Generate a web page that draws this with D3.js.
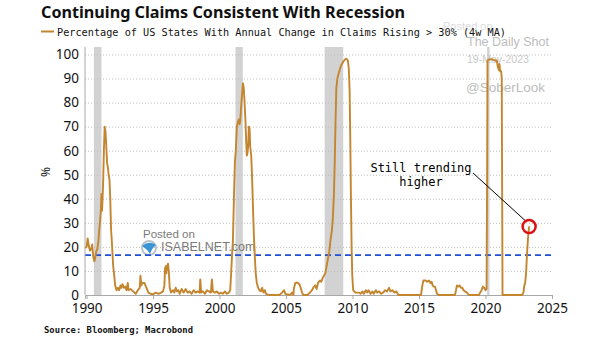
<!DOCTYPE html>
<html><head><meta charset="utf-8">
<script src="https://cdn.jsdelivr.net/npm/d3@7"></script>
<style>
html,body{margin:0;padding:0;background:#fff;}
svg{display:block;}
</style></head>
<body>
<svg id="chart" width="605" height="341"></svg>
<script>
// ---------- DATA ----------
const dates = [1989.9,1990.0,1990.08,1990.15,1990.25,1990.35,1990.42,1990.5,1990.58,1990.65,1990.72,1990.8,1990.88,1990.95,1991.02,1991.08,1991.12,1991.16,1991.2,1991.25,1991.3,1991.36,1991.42,1991.48,1991.54,1991.6,1991.66,1991.72,1991.78,1991.84,1991.88,1991.92,1992.0,1992.08,1992.15,1992.25,1992.35,1992.45,1992.55,1992.62,1992.7,1992.8,1992.9,1993.0,1993.1,1993.15,1993.3,1993.5,1993.7,1993.85,1994.0,1994.05,1994.12,1994.2,1994.35,1994.5,1994.65,1994.8,1995.0,1995.2,1995.4,1995.6,1995.75,1995.85,1995.9,1995.95,1996.0,1996.05,1996.12,1996.18,1996.25,1996.35,1996.5,1996.6,1996.7,1996.8,1996.9,1997.0,1997.15,1997.3,1997.45,1997.6,1997.75,1997.9,1998.05,1998.2,1998.35,1998.5,1998.55,1998.62,1998.75,1998.9,1999.05,1999.2,1999.35,1999.42,1999.5,1999.65,1999.8,1999.95,2000.1,2000.25,2000.4,2000.55,2000.7,2000.8,2000.88,2000.95,2001.0,2001.08,2001.15,2001.22,2001.3,2001.38,2001.45,2001.5,2001.55,2001.62,2001.7,2001.76,2001.82,2001.88,2001.95,2002.0,2002.05,2002.1,2002.15,2002.2,2002.26,2002.3,2002.38,2002.45,2002.52,2002.58,2002.65,2002.72,2002.8,2002.9,2003.0,2003.1,2003.2,2003.3,2003.4,2003.5,2003.7,2004.0,2004.5,2004.7,2004.85,2004.95,2005.3,2005.45,2005.55,2005.6,2005.7,2005.85,2006.0,2006.1,2006.2,2006.3,2006.6,2006.8,2006.95,2007.1,2007.2,2007.3,2007.4,2007.55,2007.65,2007.75,2007.85,2007.95,2008.05,2008.15,2008.25,2008.35,2008.45,2008.52,2008.6,2008.66,2008.72,2008.78,2008.86,2008.95,2009.05,2009.15,2009.3,2009.45,2009.55,2009.65,2009.72,2009.78,2009.83,2009.88,2009.93,2009.98,2010.05,2010.2,2010.4,2010.5,2010.6,2010.75,2010.85,2011.0,2011.1,2011.2,2011.35,2011.5,2011.6,2011.75,2011.85,2012.0,2012.15,2012.3,2012.45,2012.6,2012.75,2012.85,2013.0,2013.15,2013.3,2013.45,2014.0,2015.0,2015.15,2015.25,2015.33,2015.5,2015.6,2015.75,2015.85,2015.95,2016.02,2016.1,2016.2,2016.28,2016.35,2016.5,2017.7,2017.78,2017.85,2017.95,2018.05,2018.15,2018.25,2018.35,2018.45,2018.6,2018.75,2019.5,2019.6,2019.7,2019.8,2019.9,2020.0,2020.08,2020.12,2020.15,2020.3,2020.5,2020.7,2020.85,2020.92,2021.0,2021.05,2021.1,2021.18,2021.22,2021.25,2021.28,2022.0,2022.75,2022.85,2022.92,2022.98,2023.05,2023.12,2023.2,2023.28];
const pctStates = [19.5,20,23.5,21,18.5,19,21,16,14,15.5,18,19,22,27,31,36,42,35,40,48,60,70,68,62,55,53,50,48,40,27,24,20,12,8,4,2,3,2,4,3,4.5,3,3.5,2,5,2,2.5,1.5,0.5,2,3,8,4,5,5,3,1,0.5,0.3,1,0.5,1,1.5,4,11,12,9,12,13,10,3,1,2,1,3,1.5,2,0.5,2.5,1,2.5,1,1.5,0.5,2,1,1.5,1,6.5,1,1.5,0.5,2,1.5,1,6.5,1.5,1,1.5,0.5,1,0.5,1.5,0.5,1,2,10,18,22,40,55,60,70,72,73,71,72,78,84,88,86,80,72,64,58,59,62,70,69,62,58,48,35,25,16,9,5,3,2,1.5,3,1,2,0.5,0,0,0,1,2,0.5,0,1,0,3,5,5.2,4.5,3,1,0,0,1,2,3.5,4,2.5,5,6,5.5,7,8,9,12,15,18,23,27,32,42,55,72,86,90,92,94,95.5,97,98,98.2,97.5,94,85,65,40,20,8,2,1,1,1,0.5,1.5,0.5,2,1,2,0.5,1.5,0.5,2,1,1.5,0.5,1,2,1.5,3,1.5,2,1,1.5,0,0,0,0,4,6,6,5.5,6,5,5.5,4,3.5,3.5,2,0.5,0,0,2,4,3.5,4,3,3,2,1.5,1,0,0,1,2,3.5,3,2,2.5,50,97.5,98,98,97.5,97.5,95,93.5,96,93,93,90,45,0,0,0,1,4,5,9,17,24,28.5];
const recessionStarts = [1990.55, 2001.2, 2007.9, 2020.12];
const recessionEnds   = [1991.12, 2001.75, 2009.3, 2020.3];
const averageLevel = 16.6;
const yTicks = [0,10,20,30,40,50,60,70,80,90,100];
const xTicks = [1990,1995,2000,2005,2010,2015,2020,2025];
const highlightYear = 2023.28, highlightValue = 28.5;

const titleText = "Continuing Claims Consistent With Recession";
const legendText = "Percentage of US States With Annual Change in Claims Rising > 30% (4w MA)";
const sourceText = "Source: Bloomberg; Macrobond";

// ---------- CHART ----------
const svg = d3.select("#chart");
svg.append("rect").attr("width",605).attr("height",341).attr("fill","#fff");

const x = d3.scaleLinear().domain([1989.88, 2025]).range([85, 552]);
const y = d3.scaleLinear().domain([0, 103.1]).range([295, 47]);

// recession bands
svg.append("g").selectAll("rect").data(recessionStarts).join("rect")
  .attr("x", (d)=>x(d))
  .attr("width", (d,i)=>x(recessionEnds[i]) - x(d))
  .attr("y", y(103.1)).attr("height", y(0)-y(103.1))
  .attr("fill", "#d2d2d2");

// gridlines
svg.append("g").selectAll("line").data(yTicks.filter(d=>d>0)).join("line")
  .attr("x1", x.range()[0]).attr("x2", x.range()[1])
  .attr("y1", d=>y(d)+0.5).attr("y2", d=>y(d)+0.5)
  .attr("stroke", "#bdbdbd").attr("stroke-width", 1).attr("stroke-dasharray", "1,2");

// Watermarks
const wm = svg.append("g").attr("font-family","Liberation Sans, Arial, sans-serif");
wm.append("text").attr("x",443).attr("y",30).attr("font-size",11).attr("fill","#dcdcdc").text("Posted on");
wm.append("text").attr("x",467).attr("y",46).attr("font-size",12.5).attr("fill","#bdbdbd").text("The Daily Shot");
wm.append("text").attr("x",467).attr("y",63).attr("font-size",10.5).attr("fill","#c8c8c8").text("19-May-2023");
wm.append("text").attr("x",466).attr("y",92).attr("font-size",13.5).attr("fill","#bdbdbd").text("@SoberLook");

// isabelnet watermark
const iz = svg.append("g");
iz.append("text").attr("x",143).attr("y",238).attr("font-family","Liberation Sans, Arial, sans-serif")
  .attr("font-size",11.5).attr("fill","#7a7a7a").text("Posted on");
iz.append("circle").attr("cx",149).attr("cy",248).attr("r",7).attr("fill","none").attr("stroke","#b8c4cc").attr("stroke-width",2);
iz.append("path").attr("d","M142,246 Q149,240 156,245 Q152,248 150,254 Q147,249 142,246 Z").attr("fill","#3a94d6");
iz.append("text").attr("x",161).attr("y",251).attr("font-family","Liberation Sans, Arial, sans-serif")
  .attr("font-size",12.5).attr("fill","#7a7a7a").text("ISABELNET.com");

// average dashed line
svg.append("line").attr("x1", x.range()[0]).attr("x2", x.range()[1])
  .attr("y1", y(averageLevel)).attr("y2", y(averageLevel))
  .attr("stroke","#1f4fd6").attr("stroke-width",1.8).attr("stroke-dasharray","6,4");

// axes
const yAxis = svg.append("g").attr("transform","translate(85,0)")
  .call(d3.axisLeft(y).tickValues(yTicks).tickSize(0).tickPadding(6));
yAxis.select(".domain").attr("stroke","#a8a8a8").attr("d", `M0,${y(103.1)}V${y(0)}`);
yAxis.selectAll("text").attr("font-family","Noto Sans, Liberation Sans, sans-serif")
  .attr("font-size",13.5).attr("fill","#111");

const xAxis = svg.append("g").attr("transform","translate(0,295)")
  .call(d3.axisBottom(x).tickValues(xTicks).tickFormat(d3.format("d")).tickSize(4).tickPadding(4));
xAxis.select(".domain").attr("stroke","#a8a8a8");
xAxis.selectAll(".tick line").attr("stroke","#a8a8a8");
xAxis.selectAll("text").attr("font-family","Noto Sans, Liberation Sans, sans-serif")
  .attr("font-size",13.5).attr("fill","#111");

// series line
const pts = dates.map((d,i)=>[d, pctStates[i]]);
svg.append("path").datum(pts)
  .attr("d", d3.line().x(d=>x(d[0])).y(d=>y(d[1])))
  .attr("fill","none").attr("stroke","#c4852f").attr("stroke-width",1.9).attr("stroke-linejoin","round");

// annotation
const ann = svg.append("g").attr("font-family","DejaVu Sans Mono, monospace").attr("font-size",12).attr("fill","#000");
ann.append("text").attr("x",421).attr("y",172).attr("text-anchor","middle").text("Still trending");
ann.append("text").attr("x",421).attr("y",186).attr("text-anchor","middle").text("higher");
svg.append("line").attr("x1",473).attr("y1",173).attr("x2", x(highlightYear)-3).attr("y2", y(highlightValue)-5)
  .attr("stroke","#000").attr("stroke-width",1);
svg.append("circle").attr("cx", x(highlightYear)).attr("cy", y(highlightValue)).attr("r",6.5)
  .attr("fill","none").attr("stroke","#e01010").attr("stroke-width",2.5);

// y label
svg.append("text").attr("transform","translate(50,172) rotate(-90)").attr("text-anchor","middle")
  .attr("font-family","Noto Sans, sans-serif").attr("font-size",12).attr("fill","#111").text("%");

// title
svg.append("text").attr("x",41).attr("y",18).attr("font-family","Noto Sans, Liberation Sans, sans-serif")
  .attr("font-weight","bold").attr("font-size",16.5).attr("fill","#111")
  .attr("textLength",364).attr("lengthAdjust","spacingAndGlyphs").text(titleText);

// legend
svg.append("line").attr("x1",41).attr("x2",54).attr("y1",31.5).attr("y2",31.5).attr("stroke","#c4852f").attr("stroke-width",2);
svg.append("text").attr("x",57).attr("y",35.5).attr("font-family","DejaVu Sans Mono, monospace")
  .attr("font-size",10.4).attr("fill","#111")
  .attr("textLength",449).attr("lengthAdjust","spacingAndGlyphs").text(legendText);

// source
svg.append("text").attr("x",44).attr("y",333).attr("font-family","DejaVu Sans Mono, monospace")
  .attr("font-weight","bold").attr("font-size",9).attr("fill","#111")
  .attr("textLength",149).attr("lengthAdjust","spacingAndGlyphs").text(sourceText);
</script>
</body></html>
